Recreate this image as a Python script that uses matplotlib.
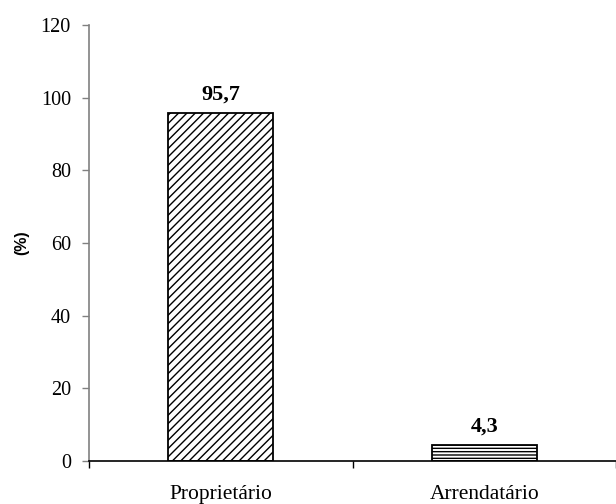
import numpy as np
import matplotlib.pyplot as plt

categorias = ["Proprietário", "Arrendatário"]
valores = [95.7, 4.3]
hachuras = ["////", "-----"]
rotulos = ["95,7", "4,3"]

plt.rcParams["hatch.linewidth"] = 1.0
plt.rcParams["hatch.color"] = "#333333"

fig = plt.figure(figsize=(6.16, 5.04), dpi=100)
ax = fig.add_axes([89 / 616, 1 - 461 / 504, 1 - 89 / 616, (461 - 25) / 504])

x = np.arange(len(categorias))
for xi, v, h in zip(x, valores, hachuras):
    ax.bar(xi, v, width=0.4, color="white", edgecolor="black",
           linewidth=1.3, hatch=h, zorder=2)

# rotulos de valor acima das barras
for xi, v, r in zip(x, valores, rotulos):
    ax.annotate(r, (xi, v), xytext=(0, 10), textcoords="offset points",
                ha="center", va="baseline", fontsize=16, fontweight="bold",
                family="Liberation Serif")

ax.set_xlim(-0.5, (616 - 222) / 266)
ax.set_ylim(0, 120)
ax.set_yticks(np.arange(0, 121, 20))
ax.set_xticks(x)
ax.set_xticklabels(categorias)
ax.set_xticks([-0.5, 0.5, 1.5], minor=True)

ax.tick_params(axis="x", which="major", length=0, pad=17)
ax.tick_params(axis="x", which="minor", length=5, width=1, color="black")
ax.tick_params(axis="y", length=5, width=1, color="#808080", pad=8)
for lab in ax.get_xticklabels():
    lab.set_family("Liberation Serif")
    lab.set_fontsize(15.5)
for lab in ax.get_yticklabels():
    lab.set_family("Liberation Serif")
    lab.set_fontsize(14.5)

ax.spines["top"].set_visible(False)
ax.spines["right"].set_visible(False)
ax.spines["left"].set_color("#808080")
ax.spines["left"].set_linewidth(1.2)
ax.spines["bottom"].set_color("black")
ax.spines["bottom"].set_linewidth(1.2)

ax.set_ylabel("(%)", family="Liberation Sans", fontweight="bold", fontsize=11.5,
              labelpad=8)

fig.savefig("out.png", dpi=100)
